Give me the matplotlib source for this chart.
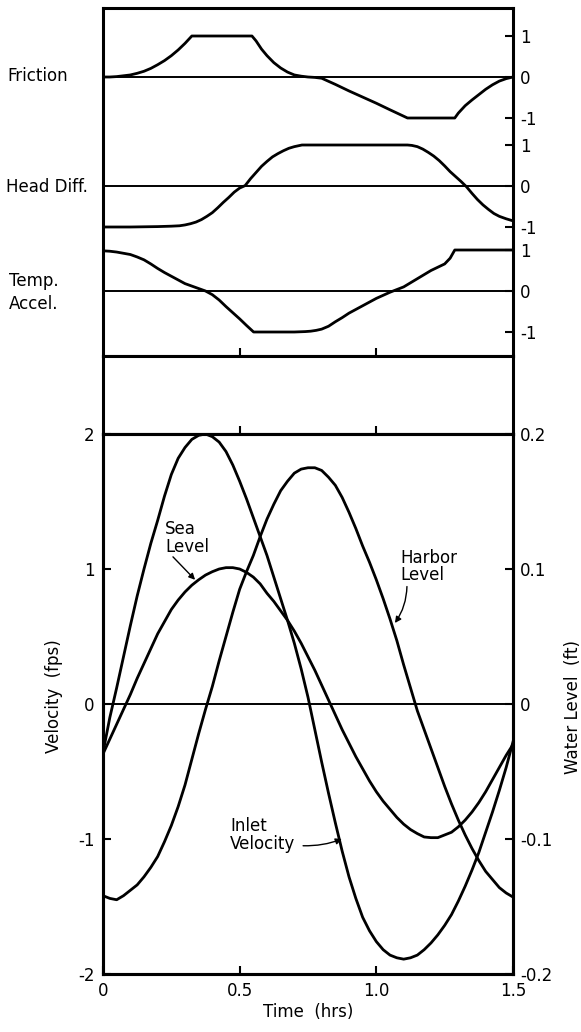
import matplotlib.pyplot as plt
import numpy as np

plt.rcParams['font.family'] = ['DejaVu Sans']
plt.rcParams['axes.unicode_minus'] = False

# --- upper panel: normalised force terms (hrs, -1..1) ---
friction_t = [0, 0.025, 0.05, 0.075, 0.10, 0.125, 0.15, 0.175, 0.20, 0.225, 0.25, 0.275, 0.30, 0.325,
              0.545, 0.56, 0.58, 0.60, 0.625, 0.65, 0.675, 0.70, 0.725, 0.75, 0.775, 0.80,
              0.85, 0.90, 0.95, 1.00, 1.05, 1.114, 1.287, 1.30, 1.325, 1.35, 1.375, 1.40,
              1.425, 1.45, 1.475, 1.50]
friction_v = [0, 0.0, 0.01, 0.03, 0.05, 0.09, 0.14, 0.21, 0.30, 0.40, 0.52, 0.66, 0.82, 1.0,
              1.0, 0.88, 0.68, 0.52, 0.35, 0.22, 0.12, 0.05, 0.02, 0.0, -0.01, -0.03,
              -0.18, -0.34, -0.49, -0.64, -0.80, -1.0, -1.0, -0.88, -0.70, -0.56, -0.43, -0.30,
              -0.19, -0.10, -0.04, 0]

head_t = [0, 0.10, 0.20, 0.25, 0.28, 0.30, 0.32, 0.34, 0.36, 0.38, 0.40, 0.42, 0.44, 0.46, 0.48,
          0.50, 0.52, 0.54, 0.56, 0.58, 0.60, 0.62, 0.64, 0.66, 0.68, 0.70, 0.728, 1.114,
          1.13, 1.15, 1.17, 1.19, 1.21, 1.23, 1.25, 1.27, 1.29, 1.31, 1.33, 1.35, 1.37,
          1.39, 1.41, 1.43, 1.45, 1.475, 1.50]
head_v = [-1.0, -1.0, -0.99, -0.98, -0.97, -0.95, -0.92, -0.88, -0.82, -0.74, -0.65, -0.53, -0.40, -0.28, -0.15,
          -0.05, 0.01, 0.18, 0.33, 0.48, 0.60, 0.71, 0.79, 0.86, 0.92, 0.96, 1.0, 1.0,
          0.99, 0.96, 0.90, 0.82, 0.73, 0.62, 0.49, 0.35, 0.23, 0.11, -0.02, -0.18, -0.33,
          -0.46, -0.57, -0.67, -0.74, -0.80, -0.85]

accel_t = [0, 0.025, 0.05, 0.075, 0.10, 0.125, 0.15, 0.175, 0.20, 0.225, 0.25, 0.275, 0.30, 0.325,
           0.35, 0.375, 0.40, 0.425, 0.45, 0.475, 0.50, 0.525, 0.551, 0.70, 0.74, 0.76, 0.78,
           0.80, 0.825, 0.85, 0.875, 0.90, 0.95, 1.00, 1.05, 1.10, 1.15, 1.20, 1.25, 1.27,
           1.287, 1.50]
accel_v = [0.98, 0.97, 0.95, 0.92, 0.89, 0.83, 0.76, 0.66, 0.55, 0.45, 0.36, 0.27, 0.18, 0.12,
           0.06, 0.0, -0.09, -0.22, -0.38, -0.53, -0.68, -0.84, -1.0, -1.0, -0.99, -0.98, -0.96,
           -0.93, -0.86, -0.75, -0.65, -0.54, -0.36, -0.18, -0.03, 0.10, 0.30, 0.50, 0.66, 0.80,
           1.0, 1.0]

# --- lower panel: every 0.025 hr from 0 to 1.5 ---
time = np.linspace(0, 1.5, 61)
inlet_velocity = [-0.36, -0.10, 0.12, 0.35, 0.58, 0.80, 1.00, 1.19, 1.36, 1.54, 1.70,
                  1.82, 1.90, 1.96, 1.99, 2.00, 1.98, 1.94, 1.87, 1.77, 1.65,
                  1.52, 1.38, 1.24, 1.10, 0.94, 0.78, 0.62, 0.45, 0.26, 0.05,
                  -0.19, -0.43, -0.66, -0.88, -1.09, -1.28, -1.44, -1.58, -1.68, -1.76,
                  -1.82, -1.86, -1.88, -1.89, -1.88, -1.86, -1.82, -1.77, -1.71, -1.64,
                  -1.56, -1.46, -1.35, -1.23, -1.10, -0.95, -0.80, -0.64, -0.47, -0.28]  # fps
sea_level = [-0.037, -0.026, -0.015, -0.004, 0.007, 0.019, 0.030, 0.041, 0.052, 0.061, 0.070,
             0.077, 0.083, 0.088, 0.092, 0.0955, 0.098, 0.100, 0.101, 0.101, 0.100,
             0.0975, 0.094, 0.089, 0.082, 0.076, 0.069, 0.062, 0.054, 0.045, 0.035,
             0.025, 0.014, 0.003, -0.008, -0.019, -0.029, -0.039, -0.048, -0.057, -0.065,
             -0.072, -0.078, -0.084, -0.089, -0.093, -0.096, -0.0985, -0.099, -0.099, -0.097,
             -0.095, -0.091, -0.086, -0.080, -0.073, -0.065, -0.056, -0.047, -0.038, -0.030]  # ft
harbor_level = [-0.142, -0.144, -0.145, -0.142, -0.138, -0.134, -0.128, -0.121, -0.113, -0.102, -0.090,
                -0.076, -0.060, -0.041, -0.022, -0.004, 0.013, 0.032, 0.050, 0.068, 0.085,
                0.098, 0.110, 0.124, 0.137, 0.148, 0.158, 0.165, 0.171, 0.174, 0.175,
                0.175, 0.173, 0.168, 0.162, 0.153, 0.142, 0.130, 0.117, 0.105, 0.092,
                0.078, 0.063, 0.047, 0.029, 0.012, -0.005, -0.019, -0.033, -0.047, -0.061,
                -0.074, -0.086, -0.097, -0.107, -0.116, -0.124, -0.130, -0.136, -0.140, -0.143]  # ft

W, H = 581, 1032
fig = plt.figure(figsize=(W / 100, H / 100), dpi=100)

def px(x0, y0, x1, y1):
    return [x0 / W, 1 - y1 / H, (x1 - x0) / W, (y1 - y0) / H]

LW_SPINE = 2.2
LW_CURVE = 2.0
LW_ZERO = 1.4
FS = 12

def style(ax):
    for s in ax.spines.values():
        s.set_linewidth(LW_SPINE)
    ax.set_xlim(0, 1.5)
    ax.set_xticks([0.5, 1.0])
    ax.tick_params(axis='x', direction='in', length=6, width=1.5, labelbottom=False)

# upper panel: three bands stacked in one box
unit = 41.0
ax_top = fig.add_axes(px(103, 8, 513, 356))
style(ax_top)
ax_top.set_ylim(0, 348 / unit)
bands = [(friction_t, friction_v, (356 - 77) / unit),
         (head_t, head_v, (356 - 186) / unit),
         (accel_t, accel_v, (356 - 291) / unit)]
yt, yl = [], []
for t, v, off in bands:
    ax_top.axhline(off, color='k', lw=LW_ZERO)
    ax_top.plot(t, np.array(v) + off, color='k', lw=LW_CURVE, solid_joinstyle='round')
    yt += [off - 1, off, off + 1]
    yl += ["-1", "0", "1"]
ax_top.yaxis.tick_right()
ax_top.set_yticks(yt)
ax_top.set_yticklabels(yl)
ax_top.tick_params(axis='y', direction='in', length=6, width=1.5, labelsize=FS, pad=5)

fig.text(7 / W, 1 - 76 / H, "Friction", fontsize=FS, ha='left', va='center')
fig.text(6 / W, 1 - 187 / H, "Head Diff.", fontsize=FS, ha='left', va='center')
fig.text(9 / W, 1 - 281 / H, "Temp.", fontsize=FS, ha='left', va='center')
fig.text(9 / W, 1 - 304 / H, "Accel.", fontsize=FS, ha='left', va='center')

# empty strip between the panels
ax_gap = fig.add_axes(px(103, 356, 513, 434))
style(ax_gap)
ax_gap.set_yticks([])

# lower panel: velocity (left) and water levels (right)
ax = fig.add_axes(px(103, 434, 513, 974))
style(ax)
ax.set_ylim(-2, 2)
ax.axhline(0, color='k', lw=LW_ZERO)
ax.plot(time, inlet_velocity, color='k', lw=LW_CURVE)
ax.set_yticks([-2, -1, 0, 1, 2])
ax.set_yticklabels(["-2", "-1", "0", "1", "2"])
ax.tick_params(axis='y', direction='in', length=6, width=1.5, labelsize=FS, pad=6)
ax.set_xticks([0, 0.5, 1.0, 1.5])
ax.set_xticklabels(["0", "0.5", "1.0", "1.5"])
ax.tick_params(axis='x', labelbottom=True, labelsize=FS, pad=6)
ax.set_xlabel("Time  (hrs)", fontsize=FS, labelpad=2)

ax2 = ax.twinx()
for s in ax2.spines.values():
    s.set_linewidth(LW_SPINE)
ax2.set_ylim(-0.2, 0.2)
ax2.plot(time, sea_level, color='k', lw=LW_CURVE)
ax2.plot(time, harbor_level, color='k', lw=LW_CURVE)
ax2.set_yticks([-0.2, -0.1, 0, 0.1, 0.2])
ax2.set_yticklabels(["-0.2", "-0.1", "0", "0.1", "0.2"])
ax2.tick_params(axis='y', direction='in', length=6, width=1.5, labelsize=FS, pad=5)

fig.text(54 / W, 1 - 696 / H, "Velocity  (fps)", fontsize=FS, rotation=90, ha='center', va='center')
fig.text(573 / W, 1 - 707 / H, "Water Level  (ft)", fontsize=FS, rotation=90, ha='center', va='center')

arrow = dict(arrowstyle='-|>', color='k', lw=1.0, mutation_scale=9, shrinkA=0, shrinkB=0)
ax.text(0.227, 1.36, "Sea\nLevel", fontsize=FS, ha='left', va='top', linespacing=0.95)
ax.annotate("", xy=(0.337, 0.92), xytext=(0.256, 1.09), arrowprops=arrow)
ax.text(1.089, 1.15, "Harbor\nLevel", fontsize=FS, ha='left', va='top', linespacing=0.95)
ax.annotate("", xy=(1.068, 0.60), xytext=(1.112, 0.87),
            arrowprops=dict(arrow, connectionstyle='arc3,rad=-0.15'))
ax.text(0.465, -0.84, "Inlet\nVelocity", fontsize=FS, ha='left', va='top', linespacing=0.95)
ax.annotate("", xy=(0.874, -1.0), xytext=(0.732, -1.05),
            arrowprops=dict(arrow, connectionstyle='arc3,rad=0.1'))

fig.savefig("out.png", dpi=100)
